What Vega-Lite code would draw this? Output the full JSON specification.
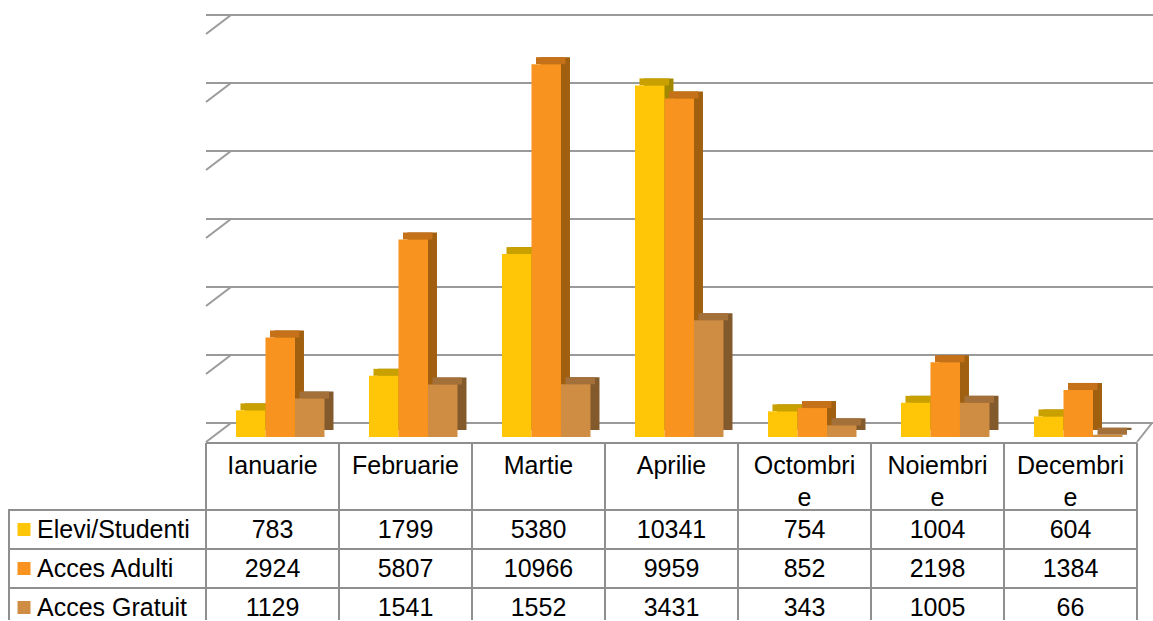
{
  "$schema": "https://vega.github.io/schema/vega-lite/v6.json",
  "padding": {"left": 7, "top": 14, "right": 0, "bottom": 0},
  "background": "white",
  "bounds": "flush",
  "align": "each",
  "columns": 2,
  "spacing": 0,
  "config": {"view": {"stroke": null}, "text": {"font": "Liberation Sans"}, "concat": {"spacing": 0}},
  "datasets": {
    "vals": [
      {"month": "Ianuarie", "series": "Elevi/Studenti", "value": 783},
      {"month": "Februarie", "series": "Elevi/Studenti", "value": 1799},
      {"month": "Martie", "series": "Elevi/Studenti", "value": 5380},
      {"month": "Aprilie", "series": "Elevi/Studenti", "value": 10341},
      {"month": "Octombrie", "series": "Elevi/Studenti", "value": 754},
      {"month": "Noiembrie", "series": "Elevi/Studenti", "value": 1004},
      {"month": "Decembrie", "series": "Elevi/Studenti", "value": 604},
      {"month": "Ianuarie", "series": "Acces Adulti", "value": 2924},
      {"month": "Februarie", "series": "Acces Adulti", "value": 5807},
      {"month": "Martie", "series": "Acces Adulti", "value": 10966},
      {"month": "Aprilie", "series": "Acces Adulti", "value": 9959},
      {"month": "Octombrie", "series": "Acces Adulti", "value": 852},
      {"month": "Noiembrie", "series": "Acces Adulti", "value": 2198},
      {"month": "Decembrie", "series": "Acces Adulti", "value": 1384},
      {"month": "Ianuarie", "series": "Acces Gratuit", "value": 1129},
      {"month": "Februarie", "series": "Acces Gratuit", "value": 1541},
      {"month": "Martie", "series": "Acces Gratuit", "value": 1552},
      {"month": "Aprilie", "series": "Acces Gratuit", "value": 3431},
      {"month": "Octombrie", "series": "Acces Gratuit", "value": 343},
      {"month": "Noiembrie", "series": "Acces Gratuit", "value": 1005},
      {"month": "Decembrie", "series": "Acces Gratuit", "value": 66}
    ],
    "months": [
      {"month": "Ianuarie", "l1": "Ianuarie", "l2": ""},
      {"month": "Februarie", "l1": "Februarie", "l2": ""},
      {"month": "Martie", "l1": "Martie", "l2": ""},
      {"month": "Aprilie", "l1": "Aprilie", "l2": ""},
      {"month": "Octombrie", "l1": "Octombri", "l2": "e"},
      {"month": "Noiembrie", "l1": "Noiembri", "l2": "e"},
      {"month": "Decembrie", "l1": "Decembri", "l2": "e"}
    ],
    "grid": [{"v": 0}, {"v": 2000}, {"v": 4000}, {"v": 6000}, {"v": 8000}, {"v": 10000}, {"v": 12000}],
    "series": [{"series": "Elevi/Studenti"}, {"series": "Acces Adulti"}, {"series": "Acces Gratuit"}]
  },
  "resolve": {"scale": {"x": "independent", "y": "independent", "color": "independent"}},
  "concat": [
    {"width": 198, "height": 429, "data": {"values": []}, "mark": "point"},
    {
      "width": 931, "height": 429,
      "resolve": {"scale": {"color": "independent", "xOffset": "independent"}},
      "layer": [
        {
          "data": {"name": "grid"},
          "mark": {"type": "rule", "stroke": "#9A9A9A", "strokeWidth": 2, "xOffset": 25, "x2Offset": 15, "yOffset": -14},
          "encoding": {
            "y": {"field": "v", "type": "quantitative", "scale": {"domain": [0, 12000], "range": [423, 15], "nice": false}, "axis": null}
          }
        },
        {
          "data": {"name": "grid"},
          "mark": {"type": "rule", "stroke": "#9A9A9A", "strokeWidth": 2, "yOffset": 5, "y2Offset": -14, "x2Offset": 25},
          "encoding": {
            "x": {"datum": "Ianuarie", "type": "nominal", "bandPosition": 0, "scale": {"domain": ["Ianuarie","Februarie","Martie","Aprilie","Octombrie","Noiembrie","Decembrie"], "paddingInner": 0, "paddingOuter": 0}, "axis": null},
            "x2": {"datum": "Ianuarie", "bandPosition": 0},
            "y": {"field": "v", "type": "quantitative"},
            "y2": {"field": "v"}
          }
        },
        {
          "data": {"name": "grid"},
          "transform": [{"filter": "datum.v === 0"}],
          "mark": {"type": "rule", "stroke": "#9A9A9A", "strokeWidth": 2, "yOffset": 5, "y2Offset": -14, "x2Offset": 15},
          "encoding": {
            "x": {"datum": "Decembrie", "type": "nominal", "bandPosition": 1},
            "x2": {"datum": "Decembrie", "bandPosition": 1},
            "y": {"field": "v", "type": "quantitative"},
            "y2": {"field": "v"}
          }
        },
        {
          "data": {"name": "grid"},
          "transform": [{"filter": "datum.v === 0"}],
          "mark": {"type": "rule", "stroke": "#8F8F8F", "strokeWidth": 2, "yOffset": 6},
          "encoding": {
            "y": {"field": "v", "type": "quantitative"}
          }
        },
        {
          "data": {"name": "vals"},
          "mark": {"type": "bar", "yOffset": -7, "y2Offset": -7},
          "encoding": {
            "x": {"field": "month", "type": "nominal"},
            "xOffset": {"field": "series", "type": "nominal", "scale": {"domain": ["Elevi/Studenti","Acces Adulti","Acces Gratuit"], "paddingInner": 0, "paddingOuter": 0.754, "align": 0.876}},
            "y": {"field": "value", "type": "quantitative"},
            "color": {"field": "series", "type": "nominal", "scale": {"domain": ["Elevi/Studenti","Acces Adulti","Acces Gratuit"], "range": ["#A28700","#A0600F","#835A2C"]}, "legend": null}
          }
        },
        {
          "data": {"name": "vals"},
          "mark": {"type": "bar", "yOffset": -7, "y2Offset": 0},
          "encoding": {
            "x": {"field": "month", "type": "nominal"},
            "xOffset": {"field": "series", "type": "nominal", "scale": {"domain": ["Elevi/Studenti","Acces Adulti","Acces Gratuit"], "paddingInner": 0, "paddingOuter": 0.754, "align": 0.775}},
            "y": {"field": "value", "type": "quantitative"},
            "y2": {"field": "value"},
            "color": {"field": "series", "type": "nominal", "scale": {"domain": ["Elevi/Studenti","Acces Adulti","Acces Gratuit"], "range": ["#C8A000","#C5711A","#A4703A"]}, "legend": null}
          }
        },
        {
          "data": {"name": "vals"},
          "mark": {"type": "bar"},
          "encoding": {
            "x": {"field": "month", "type": "nominal"},
            "xOffset": {"field": "series", "type": "nominal", "scale": {"domain": ["Elevi/Studenti","Acces Adulti","Acces Gratuit"], "paddingInner": 0, "paddingOuter": 0.754, "align": 0.674}},
            "y": {"field": "value", "type": "quantitative"},
            "color": {"field": "series", "type": "nominal", "scale": {"domain": ["Elevi/Studenti","Acces Adulti","Acces Gratuit"], "range": ["#FFC608","#F7931E","#CF8D44"]}, "legend": null}
          }
        }
      ]
    },
    {"width": 198, "height": 67, "data": {"values": []}, "mark": "point"},
    {
      "width": 931, "height": 67,
      "data": {"name": "months"},
      "layer": [
        {
          "mark": {"type": "rule", "stroke": "#8F8F8F", "strokeWidth": 2},
          "encoding": {"x": {"field": "month", "type": "nominal", "bandPosition": 0, "scale": {"domain": ["Ianuarie","Februarie","Martie","Aprilie","Octombrie","Noiembrie","Decembrie"], "paddingInner": 0, "paddingOuter": 0}, "axis": null}}
        },
        {
          "mark": {"type": "rule", "stroke": "#8F8F8F", "strokeWidth": 2},
          "encoding": {"x": {"datum": "Decembrie", "type": "nominal", "bandPosition": 1}}
        },
        {
          "mark": {"type": "text", "fontSize": 25, "baseline": "middle", "color": "#000000"},
          "encoding": {
            "x": {"field": "month", "type": "nominal"},
            "y": {"datum": "a", "type": "nominal", "scale": {"domain": ["a", "b"], "range": [7, 71], "paddingInner": 0, "paddingOuter": 0}, "axis": null},
            "text": {"field": "l1"}
          }
        },
        {
          "mark": {"type": "text", "fontSize": 25, "baseline": "middle", "color": "#000000"},
          "encoding": {
            "x": {"field": "month", "type": "nominal"},
            "y": {"datum": "b", "type": "nominal"},
            "text": {"field": "l2"}
          }
        }
      ]
    },
    {
      "width": 198, "height": 110,
      "data": {"name": "series"},
      "layer": [
        {
          "mark": {"type": "rule", "stroke": "#8F8F8F", "strokeWidth": 2},
          "encoding": {"y": {"field": "series", "type": "nominal", "bandPosition": 0, "scale": {"domain": ["Elevi/Studenti","Acces Adulti","Acces Gratuit"], "range": [0, 117], "paddingInner": 0, "paddingOuter": 0}, "axis": null}}
        },
        {
          "mark": {"type": "rule", "stroke": "#8F8F8F", "strokeWidth": 2, "xOffset": 1},
          "encoding": {"x": {"datum": "cell", "type": "nominal", "bandPosition": 0, "scale": {"domain": ["cell"], "range": [0, 198], "paddingInner": 0, "paddingOuter": 0}, "axis": null}}
        },
        {
          "mark": {"type": "square", "size": 169, "opacity": 1, "xOffset": 16},
          "encoding": {
            "x": {"datum": "cell", "type": "nominal", "bandPosition": 0},
            "y": {"field": "series", "type": "nominal"},
            "color": {"field": "series", "type": "nominal", "scale": {"domain": ["Elevi/Studenti","Acces Adulti","Acces Gratuit"], "range": ["#FFC608","#F7931E","#CF8D44"]}, "legend": null}
          }
        },
        {
          "mark": {"type": "text", "fontSize": 25, "align": "left", "baseline": "middle", "xOffset": 29, "color": "#000000"},
          "encoding": {
            "x": {"datum": "cell", "type": "nominal", "bandPosition": 0},
            "y": {"field": "series", "type": "nominal"},
            "text": {"field": "series"}
          }
        }
      ]
    },
    {
      "width": 931, "height": 110,
      "layer": [
        {
          "data": {"name": "series"},
          "mark": {"type": "rule", "stroke": "#8F8F8F", "strokeWidth": 2},
          "encoding": {"y": {"field": "series", "type": "nominal", "bandPosition": 0, "scale": {"domain": ["Elevi/Studenti","Acces Adulti","Acces Gratuit"], "range": [0, 117], "paddingInner": 0, "paddingOuter": 0}, "axis": null}}
        },
        {
          "data": {"name": "months"},
          "mark": {"type": "rule", "stroke": "#8F8F8F", "strokeWidth": 2},
          "encoding": {"x": {"field": "month", "type": "nominal", "bandPosition": 0, "scale": {"domain": ["Ianuarie","Februarie","Martie","Aprilie","Octombrie","Noiembrie","Decembrie"], "paddingInner": 0, "paddingOuter": 0}, "axis": null}}
        },
        {
          "data": {"name": "months"},
          "mark": {"type": "rule", "stroke": "#8F8F8F", "strokeWidth": 2},
          "encoding": {"x": {"datum": "Decembrie", "type": "nominal", "bandPosition": 1}}
        },
        {
          "data": {"name": "vals"},
          "mark": {"type": "text", "fontSize": 25, "baseline": "middle", "color": "#000000"},
          "encoding": {
            "x": {"field": "month", "type": "nominal"},
            "y": {"field": "series", "type": "nominal"},
            "text": {"field": "value", "type": "quantitative", "format": "d"}
          }
        }
      ]
    }
  ]
}
